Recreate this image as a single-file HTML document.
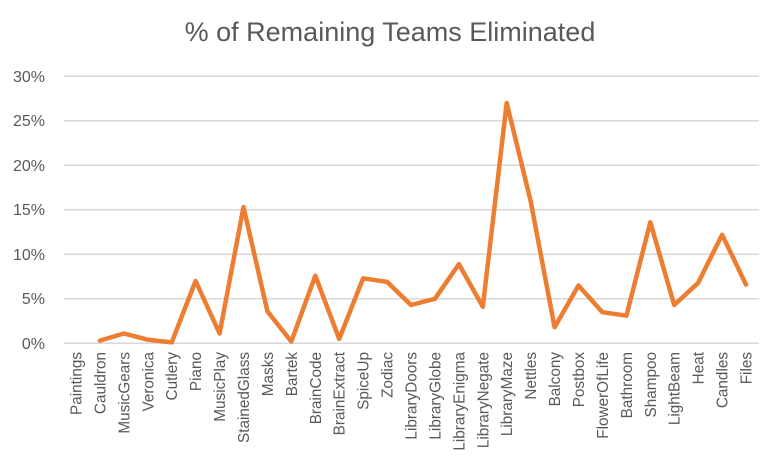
<!DOCTYPE html>
<html><head><style>
html,body{margin:0;padding:0;background:#fff;}
svg{display:block;font-family:"Liberation Sans",sans-serif;}
</style></head><body>
<svg width="780" height="464" viewBox="0 0 780 464">
<text x="390" y="41" text-anchor="middle" font-size="27" fill="#595959">% of Remaining Teams Eliminated</text>
<g stroke="#d9d9d9" stroke-width="1.5">
<line x1="64" x2="759" y1="76.3" y2="76.3"/>
<line x1="64" x2="759" y1="120.8" y2="120.8"/>
<line x1="64" x2="759" y1="165.3" y2="165.3"/>
<line x1="64" x2="759" y1="209.8" y2="209.8"/>
<line x1="64" x2="759" y1="254.3" y2="254.3"/>
<line x1="64" x2="759" y1="298.8" y2="298.8"/>
<line x1="64" x2="759" y1="343.3" y2="343.3"/>
</g>
<g font-size="16" fill="#595959" text-anchor="end">
<text x="45" y="82">30%</text>
<text x="45" y="126">25%</text>
<text x="45" y="171">20%</text>
<text x="45" y="215">15%</text>
<text x="45" y="260">10%</text>
<text x="45" y="304">5%</text>
<text x="45" y="349">0%</text>
</g>
<g font-size="15.3" fill="#595959" text-anchor="end">
<text transform="translate(81.5,352) rotate(-90)">Paintings</text>
<text transform="translate(105.4,352) rotate(-90)">Cauldron</text>
<text transform="translate(129.3,352) rotate(-90)">MusicGears</text>
<text transform="translate(153.3,352) rotate(-90)">Veronica</text>
<text transform="translate(177.2,352) rotate(-90)">Cutlery</text>
<text transform="translate(201.1,352) rotate(-90)">Piano</text>
<text transform="translate(225.1,352) rotate(-90)">MusicPlay</text>
<text transform="translate(249,352) rotate(-90)">StainedGlass</text>
<text transform="translate(272.9,352) rotate(-90)">Masks</text>
<text transform="translate(296.8,352) rotate(-90)">Bartek</text>
<text transform="translate(320.8,352) rotate(-90)">BrainCode</text>
<text transform="translate(344.7,352) rotate(-90)">BrainExtract</text>
<text transform="translate(368.6,352) rotate(-90)">SpiceUp</text>
<text transform="translate(392.6,352) rotate(-90)">Zodiac</text>
<text transform="translate(416.5,352) rotate(-90)">LibraryDoors</text>
<text transform="translate(440.4,352) rotate(-90)">LibraryGlobe</text>
<text transform="translate(464.4,352) rotate(-90)">LibraryEnigma</text>
<text transform="translate(488.3,352) rotate(-90)">LibraryNegate</text>
<text transform="translate(512.2,352) rotate(-90)">LibraryMaze</text>
<text transform="translate(536.1,352) rotate(-90)">Nettles</text>
<text transform="translate(560.1,352) rotate(-90)">Balcony</text>
<text transform="translate(584,352) rotate(-90)">Postbox</text>
<text transform="translate(607.9,352) rotate(-90)">FlowerOfLife</text>
<text transform="translate(631.9,352) rotate(-90)">Bathroom</text>
<text transform="translate(655.8,352) rotate(-90)">Shampoo</text>
<text transform="translate(679.7,352) rotate(-90)">LightBeam</text>
<text transform="translate(703.7,352) rotate(-90)">Heat</text>
<text transform="translate(727.6,352) rotate(-90)">Candles</text>
<text transform="translate(751.5,352) rotate(-90)">Files</text>
</g>
<polyline fill="none" stroke="#ed7d31" stroke-width="4.5" stroke-linejoin="round" stroke-linecap="round" points="99.9,340.6 123.8,333.5 147.8,339.7 171.7,342.4 195.6,281.0 219.6,333.5 243.5,207.1 267.4,311.3 291.3,341.5 315.3,275.7 339.2,338.9 363.1,278.3 387.1,281.9 411.0,305.0 434.9,298.8 458.9,264.1 482.8,306.8 506.7,103.0 530.6,200.9 554.6,327.3 578.5,285.5 602.4,312.2 626.4,315.7 650.3,222.3 674.2,305.0 698.2,282.8 722.1,234.7 746.0,284.6"/>
</svg>
</body></html>
